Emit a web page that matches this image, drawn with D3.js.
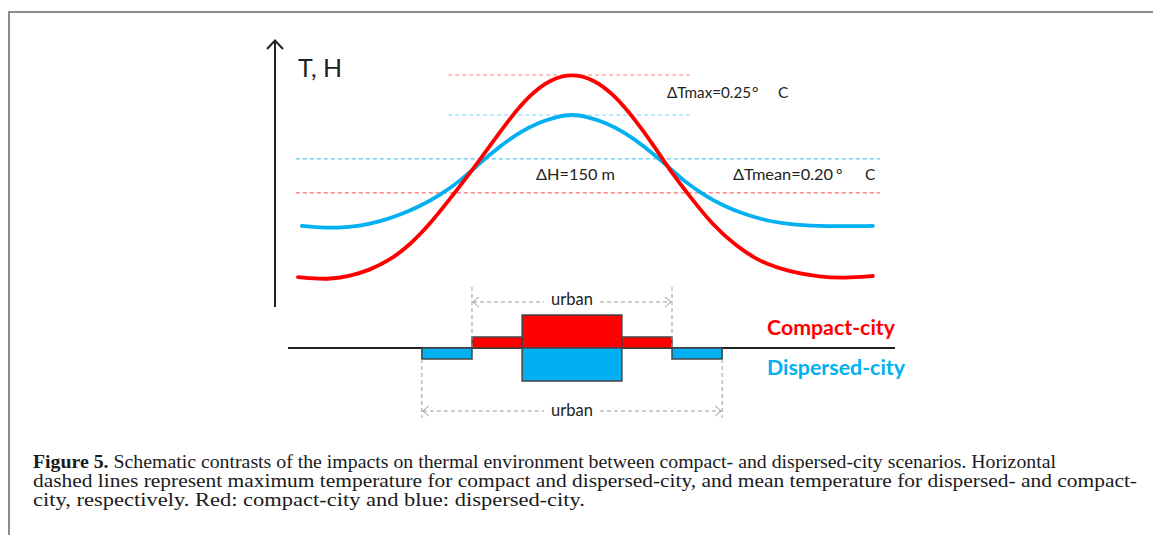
<!DOCTYPE html>
<html><head><meta charset="utf-8">
<script src="https://cdn.jsdelivr.net/npm/d3@7"></script>
<style>body{margin:0;background:#fff}svg{display:block}</style>
</head><body>
<svg id="c" width="1153" height="535"></svg>
<script>
// ---- data (schematic units) ----
const redX  = [-50,-46.9,-44.2,-40.5,-36.9,-33.2,-29.6,-25.9,-22.3,-18.6,-15,-11.3,-7.7,-4,0,4,7.7,11.3,15,18.2,21.9,25.5,29.7,34.3,39.8,45.3,49.8,54.9];
const redT  = [8.9,8.3,8.1,9.3,11.6,15.5,21.3,29.5,39.1,49.2,59.7,70.5,79.5,85.5,87.9,85.5,79.5,70.5,59.7,49.2,39.1,29.5,21.3,14.7,10.9,8.9,8.5,9.3];
const blueX = [-49.3,-46,-42.9,-38.7,-35,-31.4,-27.7,-24.1,-20.4,-16.8,-13.1,-9.5,-5.8,-2.9,0,2.9,5.8,9.5,13.1,16.8,20.4,24.1,27.7,31.8,36.1,40.7,46.2,54.9];
const blueT = [28.7,28.1,27.9,28.7,30.4,33,36.4,40.7,46.1,53.1,59.7,65.1,69,70.9,72.1,70.9,69,65.1,59.7,53.1,46.1,40.7,36.4,33,30.4,29.1,28.5,28.7];
const refNames = ["redMax","blueMax","blueMean","redMean"];
const refT     = [87.2, 71.7, 54.7, 41.5];
const refFrom  = [-22.6, -22.6, -50.4, -50.4];
const refTo    = [21.5, 21.5, 56.2, 56.2];
const compactEdges = [-18.25, -9.1, 9.1, 18.25];
const compactH     = [1, 3, 1];
const dispersedSeg = [[-27.4,-18.25],[-9.1,9.1],[18.25,27.4]];
const dispersedH   = [-1, -3, -1];
const urbanCompact = [-18.25, 18.25];
const urbanDispersed = [-27.4, 27.4];
const labels = {tmax:"ΔTmax=0.25", tmean:"ΔTmean=0.20", dh:"ΔH=150 m", axis:"T, H", urban:"urban",
  compact:"Compact-city", dispersed:"Dispersed-city"};
const caption = [
  ["Figure 5.", " Schematic contrasts of the impacts on thermal environment between compact- and dispersed-city scenarios. Horizontal"],
  ["", "dashed lines represent maximum temperature for compact and dispersed-city, and mean temperature for dispersed- and compact-"],
  ["", "city, respectively. Red: compact-city and blue: dispersed-city."]
];

const RED = "#ff0000", BLUE = "#00b0f0";
const svg = d3.select("#c");
const x = d3.scaleLinear().domain([-50, 55]).range([298, 873.4]);
const y = d3.scaleLinear().domain([0, 100]).range([300, 42]);
const h = d3.scaleLinear().domain([-3, 3]).range([381, 315]);
const F = "Lato, 'Open Sans', sans-serif";

// frame
svg.append("path").attr("d","M9,535 L9,12 L1153,12").attr("fill","none").attr("stroke","#8c8c8c").attr("stroke-width",2);

// axis arrow
svg.append("line").attr("x1",275).attr("x2",275).attr("y1",307).attr("y2",41).attr("stroke","#222").attr("stroke-width",2);
svg.append("path").attr("d","M267,49 L275,40.5 L283,49").attr("fill","none").attr("stroke","#222").attr("stroke-width",2);
svg.append("text").attr("x",298).attr("y",77).attr("font-family",F).attr("font-size",25).attr("fill","#222").text(labels.axis);

// reference dashed lines
const refColors = ["#ff8080","#7fd3f5","#5cc6f2","#ff6b6b"];
refT.forEach((t,i)=>{
  svg.append("line").attr("x1",x(refFrom[i])).attr("x2",x(refTo[i])).attr("y1",y(t)).attr("y2",y(t))
    .attr("stroke",refColors[i]).attr("stroke-width",1.2).attr("stroke-dasharray","4,3");
});

// curves
const line = d3.line().x(d=>x(d[0])).y(d=>y(d[1])).curve(d3.curveBasis);
svg.append("path").attr("d",line(blueX.map((v,i)=>[v,blueT[i]]))).attr("fill","none").attr("stroke",BLUE).attr("stroke-width",3.8).attr("stroke-linecap","round");
svg.append("path").attr("d",line(redX.map((v,i)=>[v,redT[i]]))).attr("fill","none").attr("stroke",RED).attr("stroke-width",3.8).attr("stroke-linecap","round");

// annotations
function degText(xs, yb, main, w, degX, cX){
  svg.append("text").attr("x",xs).attr("y",yb).attr("font-family",F).attr("font-size",15.5).attr("fill","#222")
    .attr("textLength",w).attr("lengthAdjust","spacingAndGlyphs").text(main);
  svg.append("text").attr("x",degX).attr("y",yb).attr("font-family",F).attr("font-size",15.5).attr("fill","#222").text("°");
  svg.append("text").attr("x",cX).attr("y",yb).attr("font-family",F).attr("font-size",15.5).attr("fill","#222").text("C");
}
degText(667, 98, labels.tmax, 84, 752, 778);
degText(733, 180, labels.tmean, 100, 836, 865);
svg.append("text").attr("x",536).attr("y",180).attr("font-family",F).attr("font-size",15.5).attr("fill","#222")
  .attr("textLength",79).attr("lengthAdjust","spacingAndGlyphs").text(labels.dh);

// baseline
svg.append("line").attr("x1",288).attr("x2",895).attr("y1",h(0)).attr("y2",h(0)).attr("stroke","#222").attr("stroke-width",2);

// bars
compactH.forEach((v,i)=>{
  svg.append("rect").attr("x",x(compactEdges[i])).attr("width",x(compactEdges[i+1])-x(compactEdges[i]))
    .attr("y",h(v)).attr("height",h(0)-h(v)).attr("fill",RED).attr("stroke","#444").attr("stroke-width",1.5);
});
dispersedH.forEach((v,i)=>{
  const s = dispersedSeg[i];
  svg.append("rect").attr("x",x(s[0])).attr("width",x(s[1])-x(s[0]))
    .attr("y",h(0)).attr("height",h(v)-h(0)).attr("fill",BLUE).attr("stroke","#444").attr("stroke-width",1.5);
});

// urban span markers
const G = "#9a9a9a";
function urban(span, vy1, vy2, ay, ty){
  const [a,b] = span.map(x);
  [a,b].forEach(px=>svg.append("line").attr("x1",px).attr("x2",px).attr("y1",vy1).attr("y2",vy2)
    .attr("stroke",G).attr("stroke-width",1).attr("stroke-dasharray","4,3"));
  const mid = (a+b)/2;
  svg.append("line").attr("x1",a+1).attr("x2",mid-28).attr("y1",ay).attr("y2",ay).attr("stroke",G).attr("stroke-width",1).attr("stroke-dasharray","4,3");
  svg.append("line").attr("x1",mid+28).attr("x2",b-1).attr("y1",ay).attr("y2",ay).attr("stroke",G).attr("stroke-width",1).attr("stroke-dasharray","4,3");
  svg.append("path").attr("d",`M${a+7},${ay-5} L${a+1},${ay} L${a+7},${ay+5}`).attr("fill","none").attr("stroke",G).attr("stroke-width",1);
  svg.append("path").attr("d",`M${b-7},${ay-5} L${b-1},${ay} L${b-7},${ay+5}`).attr("fill","none").attr("stroke",G).attr("stroke-width",1);
  svg.append("text").attr("x",mid).attr("y",ty).attr("text-anchor","middle").attr("font-family",F).attr("font-size",16.5).attr("fill","#222").text(labels.urban);
}
urban(urbanCompact, 287, 347, 302, 305);
urban(urbanDispersed, 359, 418, 411, 416);

// legend
svg.append("text").attr("x",767).attr("y",335).attr("font-family",F).attr("font-weight","bold").attr("font-size",20)
  .attr("fill",RED).attr("textLength",128).attr("lengthAdjust","spacingAndGlyphs").text(labels.compact);
svg.append("text").attr("x",767).attr("y",375).attr("font-family",F).attr("font-weight","bold").attr("font-size",20)
  .attr("fill",BLUE).attr("textLength",138).attr("lengthAdjust","spacingAndGlyphs").text(labels.dispersed);

// caption
const capW = [1023, 1104, 552];
const capY = [468, 487, 506];
caption.forEach((ln,i)=>{
  const t = svg.append("text").attr("x",33).attr("y",capY[i]).attr("font-family","'Liberation Serif', 'DejaVu Serif', serif")
    .attr("font-size",19.5).attr("fill","#1a1a1a").attr("textLength",capW[i]).attr("lengthAdjust","spacingAndGlyphs")
    .attr("xml:space","preserve").style("white-space","pre");
  if (ln[0]) t.append("tspan").attr("font-weight","bold").text(ln[0]);
  t.append("tspan").text(ln[1]);
});
</script>
</body></html>
